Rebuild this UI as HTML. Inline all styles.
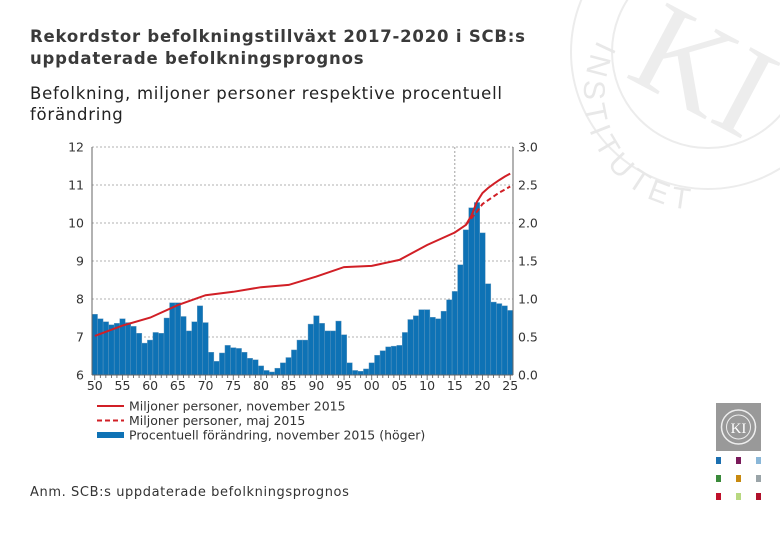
<!DOCTYPE html>
<html><head><meta charset="utf-8">
<style>
body{margin:0;width:780px;height:540px;background:#fff;overflow:hidden;font-family:"Liberation Sans",sans-serif;position:relative}
.t{position:absolute;left:30px;color:#333;white-space:nowrap}
</style></head><body>
<svg width="780" height="540" style="position:absolute;left:0;top:0" id="svg">
<defs><path id="arc" d="M 598,40 A 114,114 0 0 0 800,150"/></defs>
<g fill="none" stroke="#ececec">
<circle cx="708" cy="52" r="137" stroke-width="2"/><circle cx="708" cy="52" r="96" stroke-width="2"/>
<text font-size="30" fill="#e8e8e8" stroke="none" font-family="Liberation Sans" letter-spacing="6"><textPath href="#arc">INSTITUTET</textPath></text>
<text x="640" y="110" font-size="130" fill="#ededed" stroke="none" font-family="Liberation Serif" transform="rotate(28 700 60)">KI</text>
</g>
<g>
<rect x="716" y="403" width="45" height="48" fill="#999"/>
<circle cx="738.5" cy="427" r="17" fill="none" stroke="#eee" stroke-width="1.5"/>
<circle cx="738.5" cy="427" r="12" fill="none" stroke="#eee" stroke-width="1"/>
<text x="738.5" y="433" font-size="15" fill="#fff" text-anchor="middle" font-family="Liberation Serif">KI</text>
</g>
<g>
<rect x="716" y="457" width="5" height="7" fill="#1b6fb0"/><rect x="736" y="457" width="5" height="7" fill="#7a1a5a"/><rect x="756" y="457" width="5" height="7" fill="#8ab7d8"/>
<rect x="716" y="475" width="5" height="7" fill="#3a8a3a"/><rect x="736" y="475" width="5" height="7" fill="#c88a10"/><rect x="756" y="475" width="5" height="7" fill="#9aa4a8"/>
<rect x="716" y="493" width="5" height="7" fill="#c0102a"/><rect x="736" y="493" width="5" height="7" fill="#b8d880"/><rect x="756" y="493" width="5" height="7" fill="#b0102a"/>
</g>
<g id="chart"></g>
</svg>
<div class="t" style="top:26px;font-size:16.5px;font-weight:bold;line-height:22px;letter-spacing:0.8px;font-family:'DejaVu Sans',sans-serif;color:#3a3a3a">Rekordstor befolkningstillväxt 2017-2020 i SCB:s<br>uppdaterade befolkningsprognos</div>
<div class="t" style="top:83px;font-size:16.5px;line-height:21px;letter-spacing:0.75px;font-family:'DejaVu Sans',sans-serif;color:#222">Befolkning, miljoner personer respektive procentuell<br>förändring</div>
<div class="t" style="top:485px;font-size:13px;letter-spacing:0.6px;font-family:'DejaVu Sans',sans-serif;color:#333">Anm. SCB:s uppdaterade befolkningsprognos</div>
<script>
const pctValues=[0.80,0.74,0.70,0.66,0.68,0.74,0.69,0.64,0.55,0.42,0.46,0.56,0.55,0.75,0.95,0.95,0.77,0.58,0.70,0.91,0.69,0.30,0.18,0.29,0.39,0.36,0.35,0.30,0.22,0.20,0.12,0.06,0.04,0.09,0.16,0.23,0.33,0.46,
0.46,0.67,0.78,0.68,0.58,0.58,0.71,0.53,0.16,0.06,0.05,0.08,0.16,0.26,0.32,0.37,0.38,0.39,0.56,0.73,0.78,0.86,0.86,0.76,0.74,0.84,0.99,1.10,1.45,1.91,2.20,2.27,1.87,1.20,0.96,0.94,0.91,0.85];
const nov2015Years=[1950,1955,1960,1965,1970,1975,1980,1985,1990,1995,2000,2005,2010,2015,2017,2018,2019,2020,2021,2022,2023,2024,2025];
const nov2015Values=[7.03,7.30,7.51,7.84,8.10,8.19,8.31,8.37,8.59,8.84,8.87,9.03,9.42,9.75,9.95,10.2,10.56,10.79,10.92,11.03,11.13,11.22,11.3];
const maj2015Years=[2017,2018,2019,2020,2021,2022,2023,2024,2025];
const maj2015Values=[9.95,10.13,10.3,10.5,10.6,10.7,10.8,10.88,10.96];
const leftTicks=[6,7,8,9,10,11,12];
const rightTicks=["0.0","0.5","1.0","1.5","2.0","2.5","3.0"];
const xTickLabels=["50","55","60","65","70","75","80","85","90","95","00","05","10","15","20","25"];

const NS="http://www.w3.org/2000/svg",g=document.getElementById('chart');
const X0=92,X1=513,Y0=375,Y1=147;
const bw=(X1-X0)/76;
const xs=y=>X0+(y-1950+0.5)*bw;
const yl=v=>Y0-(v-6)/6*(Y0-Y1);
const yr=v=>Y0-v/3*(Y0-Y1);
function el(t,a,p){const e=document.createElementNS(NS,t);for(const k in a)e.setAttribute(k,a[k]);(p||g).appendChild(e);return e;}
leftTicks.forEach((v,i)=>{
 const y=yl(v);
 if(i>0){const l=el('line',{x1:X0,x2:X1,y1:y,y2:y,stroke:'#999','stroke-dasharray':'2,2','stroke-width':0.8});
 
 }
 const t=el('text',{x:X0-8,y:y+4.5,'text-anchor':'end','font-size':12.5,fill:'#333','font-family':'DejaVu Sans'});t.textContent=v;
 
 
 const t2=el('text',{x:X1+5,y:y+4.5,'font-size':12.5,fill:'#333','font-family':'DejaVu Sans'});t2.textContent=rightTicks[i];
 
 
});
const vl=el('line',{x1:xs(2015),x2:xs(2015),y1:Y1,y2:Y0,stroke:'#888','stroke-dasharray':'2,2','stroke-width':0.8});


pctValues.forEach((v,i)=>{
 const x=X0+i*bw;
 const r=el('rect',{x:x,y:yr(v),width:bw,height:Y0-yr(v),fill:'#0e72b5',stroke:'#6a9cc0','stroke-width':0.4});
 
 
});
[[X0,Y1,X0,Y0],[X1,Y1,X1,Y0],[X0,Y0,X1,Y0]].forEach(a=>{const l=el('line',{x1:a[0],y1:a[1],x2:a[2],y2:a[3],stroke:'#666','stroke-width':1});
 
 });
for(let y=1950;y<=2025;y++){const x=xs(y);el('line',{x1:x,x2:x,y1:Y0,y2:Y0+(y%5==0?5:3),stroke:'#555','stroke-width':0.8});}
xTickLabels.forEach((s,i)=>{const t=el('text',{x:xs(1950+i*5),y:Y0+15,'text-anchor':'middle','font-size':12.5,fill:'#333','font-family':'DejaVu Sans'});t.textContent=s;
 
 });
function path(ys,vs){return ys.map((y,i)=>(i?'L':'M')+xs(y).toFixed(1)+','+yl(vs[i]).toFixed(1)).join('');}
const pm=el('path',{d:path(maj2015Years,maj2015Values),fill:'none',stroke:'#d11f26','stroke-width':2,'stroke-dasharray':'5,3'});


const pn=el('path',{d:path(nov2015Years,nov2015Values),fill:'none',stroke:'#d11f26','stroke-width':2});


const leg=[['solid','Miljoner personer, november 2015'],['dash','Miljoner personer, maj 2015'],['bar','Procentuell förändring, november 2015 (höger)']];
leg.forEach((L,i)=>{
 const y=406+i*14.5;
 if(L[0]=='bar')el('rect',{x:97,y:y-3,width:27,height:6,fill:'#0e72b5'});
 else el('line',{x1:97,x2:124,y1:y,y2:y,stroke:'#d11f26','stroke-width':2,'stroke-dasharray':L[0]=='dash'?'5,3':'none'});
 const t=el('text',{x:129,y:y+4.5,'font-size':12.5,fill:'#333','font-family':'DejaVu Sans'});t.textContent=L[1];
 
 
});
</script>
</body></html>
